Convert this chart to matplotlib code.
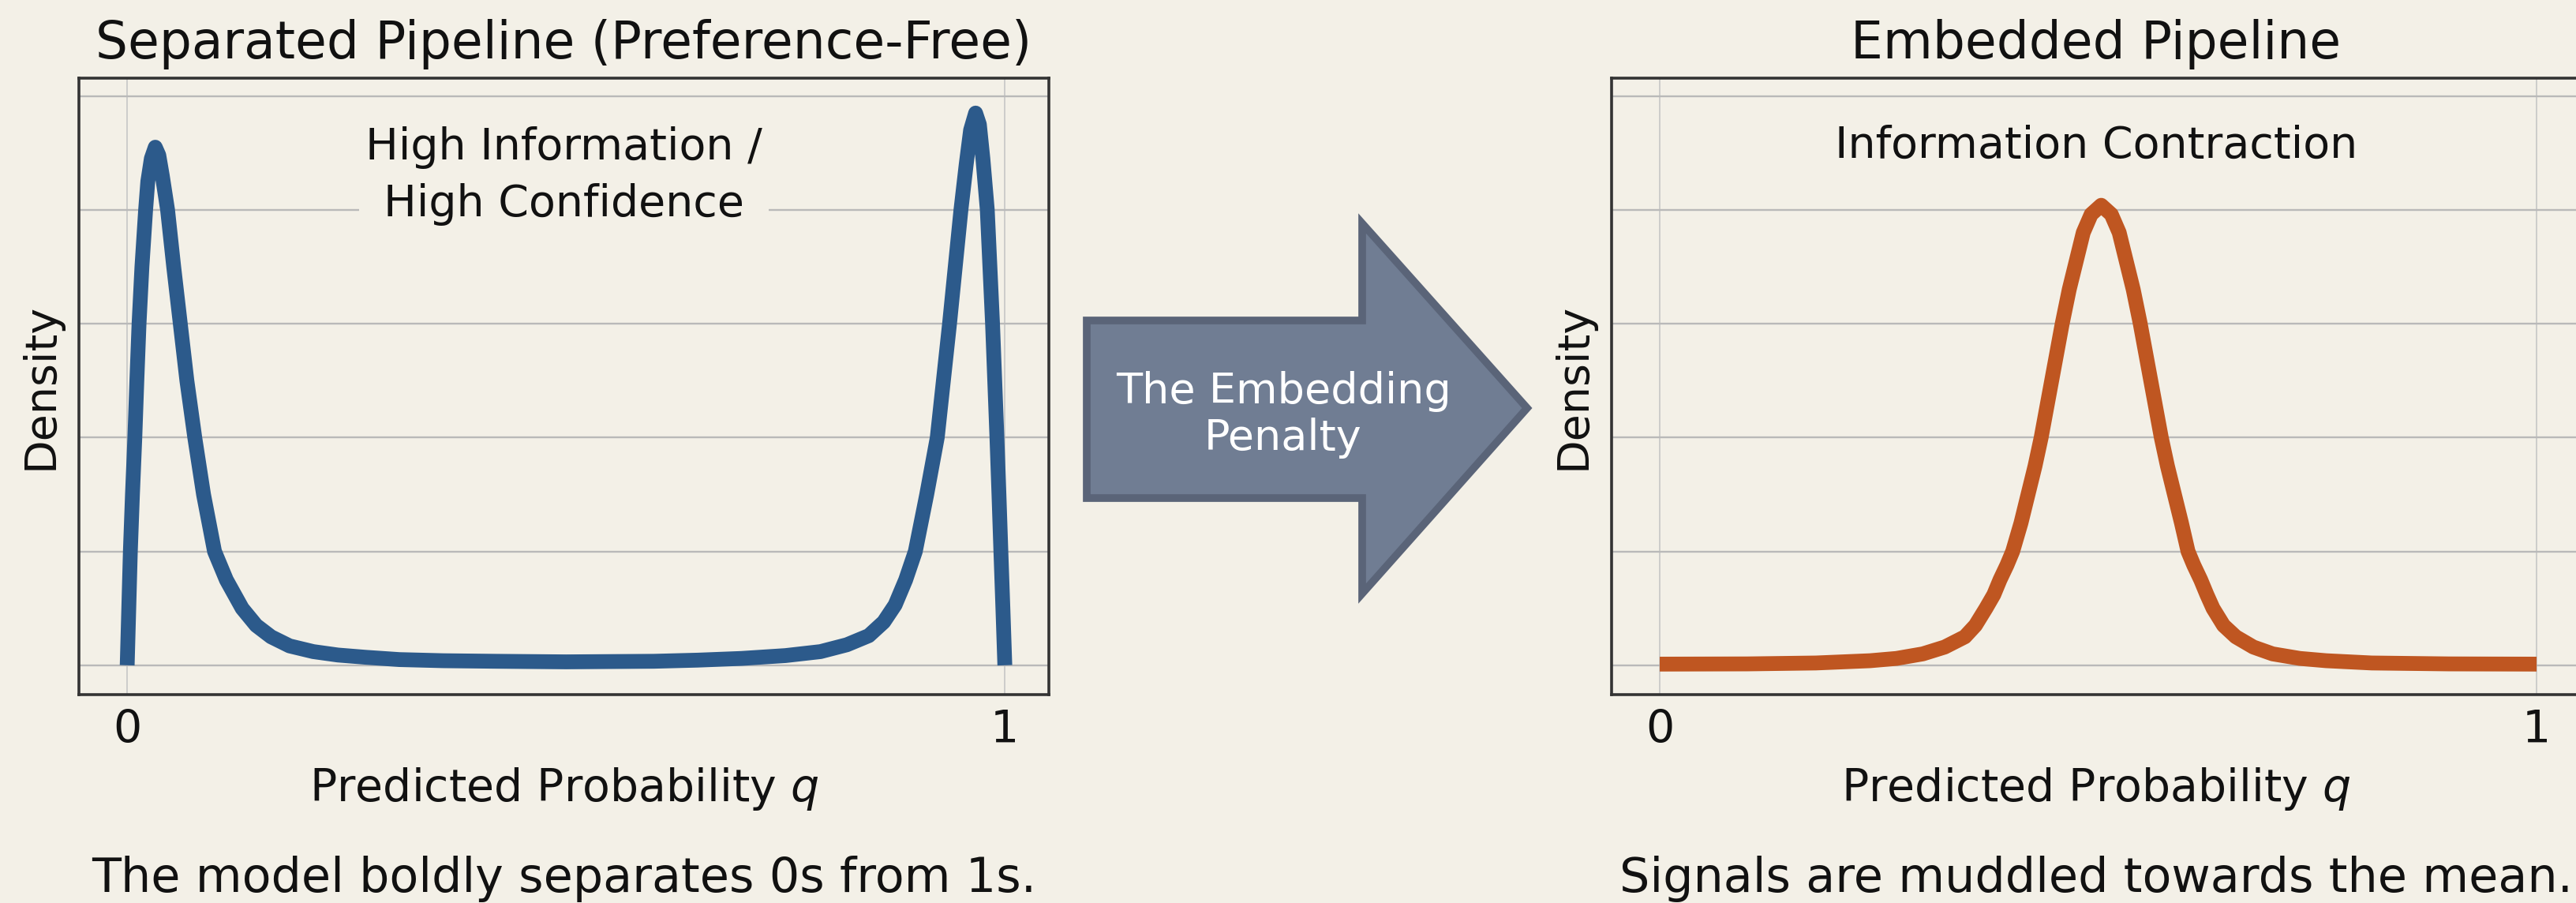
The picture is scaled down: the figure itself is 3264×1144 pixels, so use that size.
import matplotlib
matplotlib.use("Agg")
import matplotlib.pyplot as plt
import matplotlib.transforms as mtransforms
from matplotlib.patches import Polygon

# ---------------- data ----------------
sep_q = [0.000, 0.0018, 0.0036, 0.006, 0.0087, 0.011, 0.0135, 0.0168, 0.021, 0.0235,
         0.0275, 0.032, 0.036, 0.040, 0.046, 0.053, 0.0605, 0.068, 0.077, 0.087,
         0.0995, 0.113, 0.131, 0.147, 0.164, 0.185, 0.212, 0.240, 0.272, 0.310,
         0.360, 0.420, 0.500, 0.600, 0.650, 0.700, 0.750, 0.790, 0.820, 0.845,
         0.862, 0.875, 0.887, 0.898, 0.911, 0.923, 0.930, 0.937, 0.9435, 0.950,
         0.956, 0.961, 0.9667, 0.971, 0.975, 0.980, 0.983, 0.986, 0.9885, 0.991,
         0.9933, 0.9955, 0.9978, 1.000]
sep_density = [0.00, 0.50, 1.00, 1.50, 2.00, 2.50, 3.00, 3.50, 4.00, 4.25,
               4.45, 4.55, 4.48, 4.30, 4.00, 3.50, 3.00, 2.50, 2.00, 1.50,
               1.00, 0.75, 0.50, 0.35, 0.25, 0.17, 0.12, 0.09, 0.07, 0.05,
               0.04, 0.035, 0.03, 0.035, 0.045, 0.06, 0.085, 0.12, 0.18, 0.26,
               0.38, 0.53, 0.75, 1.00, 1.50, 2.00, 2.50, 3.00, 3.50, 4.00,
               4.40, 4.70, 4.85, 4.75, 4.45, 4.00, 3.50, 3.00, 2.50, 2.00,
               1.50, 1.00, 0.50, 0.00]

emb_q = [0.000, 0.100, 0.178, 0.240, 0.270, 0.300, 0.325, 0.348, 0.360, 0.372,
         0.381, 0.388, 0.396, 0.4025, 0.412, 0.420, 0.428, 0.435, 0.441, 0.447,
         0.453, 0.459, 0.467, 0.475, 0.483, 0.492, 0.5035, 0.515, 0.524, 0.532,
         0.540, 0.548, 0.554, 0.560, 0.566, 0.572, 0.579, 0.587, 0.595, 0.6025,
         0.609, 0.617, 0.624, 0.631, 0.643, 0.657, 0.677, 0.699, 0.730, 0.760,
         0.812, 0.900, 1.000]
emb_density = [0.01, 0.012, 0.02, 0.04, 0.06, 0.10, 0.16, 0.25, 0.35, 0.50,
               0.62, 0.75, 0.88, 1.00, 1.25, 1.50, 1.75, 2.00, 2.25, 2.50,
               2.75, 3.00, 3.30, 3.55, 3.80, 3.96, 4.04, 3.96, 3.80, 3.55,
               3.30, 3.00, 2.75, 2.50, 2.25, 2.00, 1.75, 1.50, 1.25, 1.00,
               0.88, 0.75, 0.62, 0.50, 0.35, 0.25, 0.16, 0.10, 0.06, 0.04,
               0.02, 0.012, 0.01]

x_ticks = [0, 1]
x_tick_labels = ["0", "1"]
y_grid = [0, 1, 2, 3, 4, 5]

titles = ["Separated Pipeline (Preference-Free)", "Embedded Pipeline"]
notes = ["High Information /\nHigh Confidence", "Information Contraction"]
captions = ["The model boldly separates 0s from 1s.",
            "Signals are muddled towards the mean."]
arrow_label = "The Embedding\nPenalty"
x_label = "Predicted Probability $q$"
y_label = "Density"

# ---------------- style ----------------
BG = "#F3F0E7"
BLUE = "#2C5A8B"
ORANGE = "#BF5621"
ARROW_FILL = "#707D93"
ARROW_EDGE = "#5A6478"
SPINE = "#333333"

W, H = 3264, 1144
DPI = 100
plt.rcParams["font.family"] = ["DejaVu Sans"]
plt.rcParams["mathtext.fontset"] = "dejavusans"

fig = plt.figure(figsize=(W / DPI, H / DPI), dpi=DPI, facecolor=BG)

ax_pos = [
    [100 / W, 264.4 / H, 1228.8 / W, 781.1 / H],
    [2041.9 / W, 264.4 / H, 1227.7 / W, 781.1 / H],
]

series = [(sep_q, sep_density, BLUE, 13.5), (emb_q, emb_density, ORANGE, 13.5)]
# baseline of the LAST text line of each note, in data units
note_y = [3.94, 4.46]

for i, pos in enumerate(ax_pos):
    ax = fig.add_axes(pos)
    ax.set_facecolor(BG)
    q, d, col, lw = series[i]
    ax.plot(q, d, color=col, lw=lw, solid_capstyle="butt",
            solid_joinstyle="round", zorder=2)
    ax.set_xlim(-0.055, 1.05)
    ax.set_ylim(-0.255, 5.16)
    ax.set_xticks(x_ticks)
    ax.set_xticklabels(x_tick_labels)
    ax.set_yticks(y_grid)
    ax.set_yticklabels([])
    ax.tick_params(axis="both", length=0)
    ax.tick_params(axis="x", pad=13, labelsize=41, labelcolor="#111111")
    ax.grid(axis="y", color="#b9b9b9", lw=1.7)
    ax.grid(axis="x", color="#c6c6c6", lw=1.2)
    for sp in ax.spines.values():
        sp.set_color(SPINE)
        sp.set_linewidth(2.6)

    ax.set_title(titles[i], fontsize=46.5, pad=18, color="#111111")

    ax.set_xlabel(x_label, fontsize=41, color="#111111")
    ax.xaxis.label.set_va("baseline")
    ax.xaxis.set_label_coords(0.5, -0.1734)

    ax.set_ylabel(y_label, fontsize=40, color="#111111")
    ax.yaxis.label.set_va("baseline")
    ax.yaxis.set_label_coords(-0.0269, 0.5)

    trans = mtransforms.blended_transform_factory(ax.transAxes, ax.transData)
    ax.text(0.5, note_y[i], notes[i], transform=trans, ha="center",
            va="baseline", fontsize=40, color="#111111", linespacing=1.45,
            multialignment="center", zorder=3,
            bbox=dict(boxstyle="square,pad=0.15", fc=BG, ec="none"))

    cx = pos[0] + pos[2] / 2
    fig.text(cx, 14 / H, captions[i], ha="center", va="baseline",
             fontsize=43.5, color="#111111")

# ---------------- arrow between panels ----------------
def fx(px):
    return px / W

def fy(py):
    return 1 - py / H

arrow_pts = [
    (fx(1377), fy(406)), (fx(1726), fy(406)), (fx(1726), fy(283)),
    (fx(1935), fy(517)), (fx(1726), fy(752)), (fx(1726), fy(631)),
    (fx(1377), fy(631)),
]
arrow = Polygon(arrow_pts, closed=True, transform=fig.transFigure,
                fc=ARROW_FILL, ec=ARROW_EDGE, lw=7, joinstyle="miter")
fig.patches.append(arrow)

# baseline of the last line ("Penalty")
fig.text(fx(1626), fy(570), arrow_label, ha="center", va="baseline",
         multialignment="center", fontsize=39, color="white", linespacing=1.18)

fig.savefig("out.png", dpi=DPI, facecolor=BG)
